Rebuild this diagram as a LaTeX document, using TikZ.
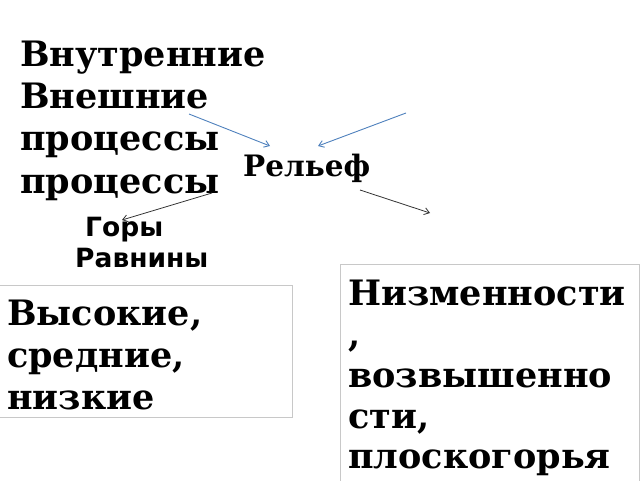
\documentclass[tikz,border=0pt]{standalone}
\usepackage{fontspec}
\newfontfamily\srf{DejaVu Serif}
\newfontfamily\ssf{DejaVu Sans}
\definecolor{pblue}{RGB}{79,129,189}
\definecolor{boxgray}{RGB}{200,200,200}
\usetikzlibrary{arrows.meta}
\begin{document}
\begin{tikzpicture}[x=1pt,y=-1pt,
  big/.style={anchor=base west,inner sep=0pt,font=\srf\bfseries\fontsize{35}{35}\selectfont},
  mid/.style={anchor=base west,inner sep=0pt,font=\srf\bfseries\fontsize{29.5}{29.5}\selectfont},
  sans/.style={anchor=base west,inner sep=0pt,font=\ssf\bfseries\fontsize{26.5}{26.5}\selectfont},
  bluearrow/.style={draw=pblue,line width=0.9pt,-{Straight Barb[length=5pt,width=7pt]}},
  blackarrow/.style={draw=black!80,line width=0.8pt,-{Straight Barb[length=5pt,width=7pt]}},
  tbox/.style={draw=boxgray,line width=0.9pt}]
\useasboundingbox (0,0) rectangle (640,480);
% top-left text
\node[big] (l1) at (20,66) {Внутренние};
\node[big] (l2) at (20,108) {Внешние};
\node[big] (l3) at (20,150) {процессы};
\node[big] (l4) at (20,193) {процессы};
\node[mid] (rel) at (243,176) {Рельеф};
\node[sans] (gory) at (85,236) {Горы};
\node[sans] (ravn) at (75,267) {Равнины};
% arrows
\coordinate (a1s) at (189,114); \coordinate (a1e) at (270,146);
\coordinate (a2s) at (406,113); \coordinate (a2e) at (318,146);
\coordinate (a3s) at (212,193); \coordinate (a3e) at (122,220);
\coordinate (a4s) at (360,190); \coordinate (a4e) at (430,213);
\draw[bluearrow] (a1s) -- (a1e);
\draw[bluearrow] (a2s) -- (a2e);
\draw[blackarrow] (a3s) -- (a3e);
\draw[blackarrow] (a4s) -- (a4e);
% left box
\path[tbox] (-1,285) rectangle (292,417);
\node[big] (b1) at (7,325) {Высокие,};
\node[big] (b2) at (7,367) {средние,};
\node[big] (b3) at (7,409) {низкие};
% right box
\path[tbox] (340,264) rectangle (639,485);
\node[big] (c1) at (348,305) {Низменности};
\node[big] (c2) at (348,346) {,};
\node[big] (c3) at (348,387) {возвышенно};
\node[big] (c4) at (348,428) {сти,};
\node[big] (c5) at (348,468) {плоскогорья};
\end{tikzpicture}
\end{document}
